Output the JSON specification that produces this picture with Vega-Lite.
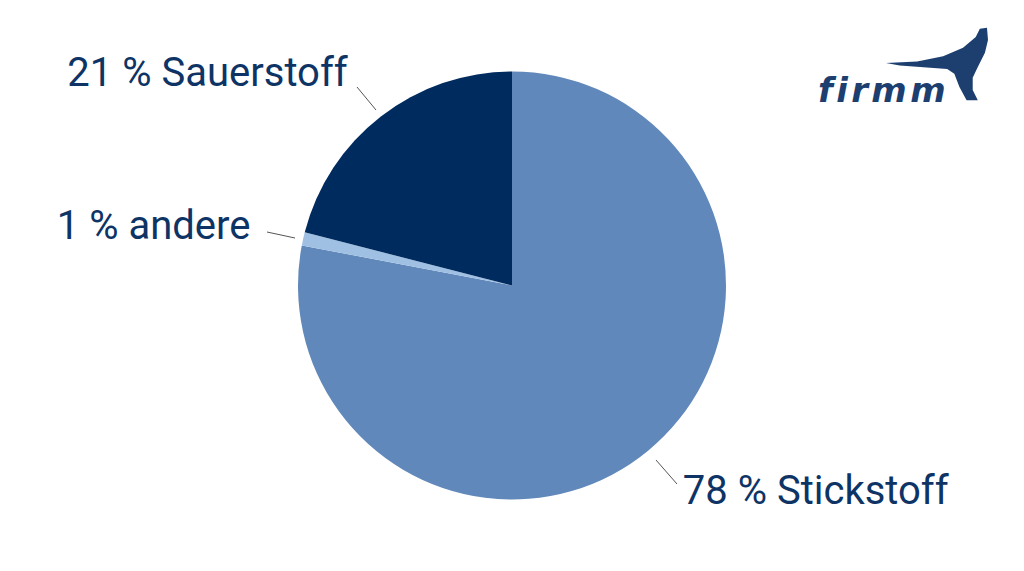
{
  "$schema": "https://vega.github.io/schema/vega-lite/v6.json",
  "width": 1024,
  "height": 571,
  "autosize": {"type": "fit", "contains": "padding"},
  "padding": 0,
  "background": "white",
  "config": {"view": {"stroke": null}},
  "datasets": {
    "gase": [
      {"gas": "Stickstoff", "anteil": 78, "reihe": 1, "label": "78 % Stickstoff", "seite": "rechts"},
      {"gas": "andere", "anteil": 1, "reihe": 2, "label": "1 % andere", "seite": "links"},
      {"gas": "Sauerstoff", "anteil": 21, "reihe": 3, "label": "21 % Sauerstoff", "seite": "links"}
    ],
    "linien": [
      {"gas": "Sauerstoff", "x": 357, "y": 87, "x2": 376, "y2": 110},
      {"gas": "andere", "x": 267, "y": 232, "x2": 295, "y2": 238},
      {"gas": "Stickstoff", "x": 656, "y": 460, "x2": 677, "y2": 484}
    ],
    "logo": [
      {"teil": "f\u200ai\u200ar\u200am\u200am", "x": 818, "y": 102, "tx": 937, "ty": 64.5}
    ]
  },
  "layer": [
    {
      "data": {"name": "gase"},
      "mark": {"type": "arc", "outerRadius": 214},
      "encoding": {
        "theta": {"field": "anteil", "type": "quantitative", "stack": true},
        "order": {"field": "reihe", "type": "quantitative"},
        "color": {
          "field": "gas",
          "type": "nominal",
          "scale": {"domain": ["Stickstoff", "andere", "Sauerstoff"], "range": ["#6088ba", "#9fc0e3", "#002b5f"]},
          "legend": null
        }
      }
    },
    {
      "data": {"name": "gase"},
      "mark": {"type": "text", "radius": 268, "align": "right", "baseline": "middle", "font": "Roboto", "fontSize": 40, "color": "#0e3466"},
      "encoding": {
        "theta": {"field": "anteil", "type": "quantitative", "stack": true},
        "order": {"field": "reihe", "type": "quantitative"},
        "text": {"field": "label"},
        "opacity": {"condition": {"test": "datum.seite === 'links'", "value": 1}, "value": 0}
      }
    },
    {
      "data": {"name": "gase"},
      "mark": {"type": "text", "radius": 268, "align": "left", "baseline": "middle", "font": "Roboto", "fontSize": 40, "color": "#0e3466"},
      "encoding": {
        "theta": {"field": "anteil", "type": "quantitative", "stack": true},
        "order": {"field": "reihe", "type": "quantitative"},
        "text": {"field": "label"},
        "opacity": {"condition": {"test": "datum.seite === 'rechts'", "value": 1}, "value": 0}
      }
    },
    {
      "data": {"name": "linien"},
      "mark": {"type": "rule", "color": "#555555", "strokeWidth": 1},
      "encoding": {
        "x": {"field": "x", "type": "quantitative", "scale": {"domain": [0, 1024]}, "axis": null},
        "y": {"field": "y", "type": "quantitative", "scale": {"domain": [0, 571], "reverse": true}, "axis": null},
        "x2": {"field": "x2"},
        "y2": {"field": "y2"}
      }
    },
    {
      "data": {"name": "logo"},
      "mark": {"type": "text", "align": "left", "baseline": "alphabetic", "font": "DejaVu Sans", "fontWeight": "bold", "fontStyle": "italic", "fontSize": 34, "color": "#1c3f70"},
      "encoding": {
        "x": {"field": "x", "type": "quantitative", "scale": {"domain": [0, 1024]}, "axis": null},
        "y": {"field": "y", "type": "quantitative", "scale": {"domain": [0, 571], "reverse": true}, "axis": null},
        "text": {"field": "teil"}
      }
    },
    {
      "data": {"name": "logo"},
      "mark": {
        "type": "point",
        "filled": true,
        "color": "#1c3f70",
        "opacity": 1,
        "size": 10404,
        "shape": "M-1,-0.03 L-0.39,-0.06 L0.12,-0.16 L0.51,-0.33 L0.76,-0.54 L0.84,-0.7 L0.98,-0.72 L1,-0.48 L0.94,-0.23 L0.8,0.05 L0.7,0.26 L0.7,0.5 L0.8,0.7 L0.58,0.7 L0.44,0.44 L0.34,0.18 L0.2,0.09 L-0.2,0.06 L-0.73,0.02 Z"
      },
      "encoding": {
        "x": {"field": "tx", "type": "quantitative", "scale": {"domain": [0, 1024]}, "axis": null},
        "y": {"field": "ty", "type": "quantitative", "scale": {"domain": [0, 571], "reverse": true}, "axis": null}
      }
    }
  ]
}
